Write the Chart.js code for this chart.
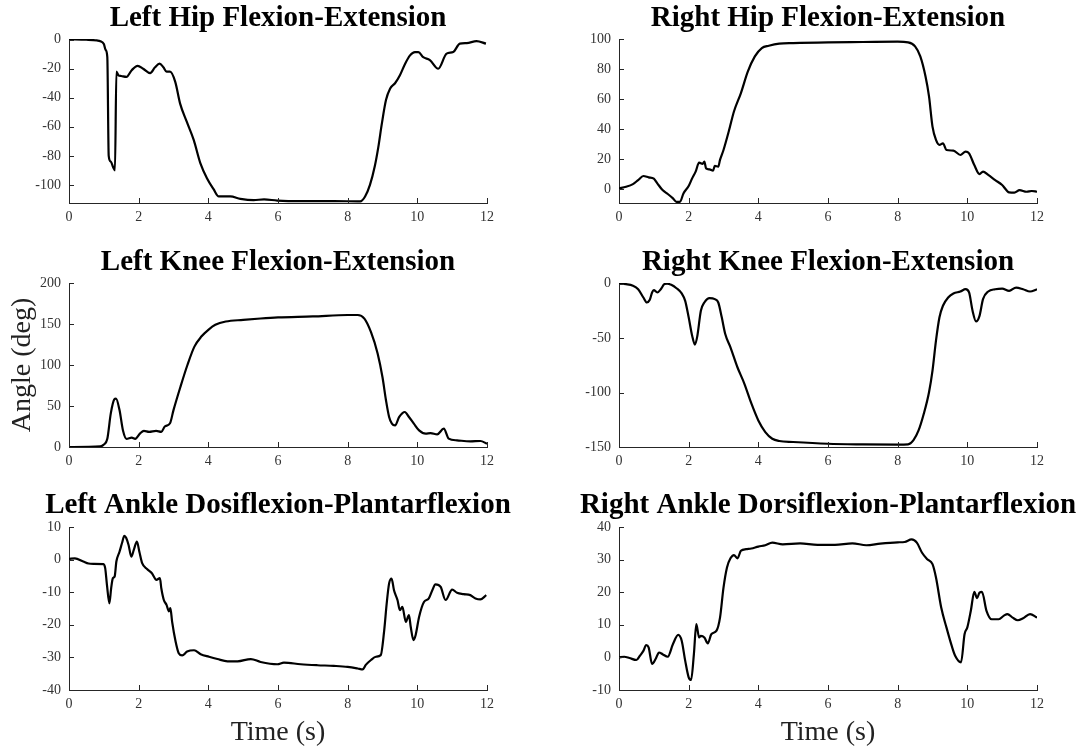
<!DOCTYPE html>
<html>
<head>
<meta charset="utf-8">
<script src="https://cdn.jsdelivr.net/npm/chart.js@4/dist/chart.umd.min.js"></script>
<style>
  body { margin: 0; background: #fff; width: 1082px; height: 749px; overflow: hidden; position: relative; }
  .cell { position: absolute; }
</style>
</head>
<body>
<div class="cell" style="left:0;top:0;width:556px;height:240px"><canvas id="lhip"></canvas></div>
<div class="cell" style="left:574px;top:0;width:508px;height:240px"><canvas id="rhip"></canvas></div>
<div class="cell" style="left:0;top:244px;width:556px;height:240px"><canvas id="lknee"></canvas></div>
<div class="cell" style="left:574px;top:244px;width:508px;height:240px"><canvas id="rknee"></canvas></div>
<div class="cell" style="left:0;top:488px;width:556px;height:261px"><canvas id="lankle"></canvas></div>
<div class="cell" style="left:574px;top:488px;width:508px;height:261px"><canvas id="rankle"></canvas></div>
<script>
// time axis ticks (s)
const timeTicks = [0, 2, 4, 6, 8, 10, 12];

// Left hip flexion-extension
const lhipT = [0, 0.5, 0.8, 0.9, 1.0, 1.05, 1.1, 1.14, 1.2, 1.27, 1.32, 1.36, 1.42, 1.5, 1.65, 1.8, 1.97, 2.13, 2.33, 2.47, 2.6, 2.71, 2.8, 2.9, 3.05, 3.19, 3.38, 3.58, 3.77, 3.96, 4.15, 4.3, 4.63, 4.92, 5.3, 5.6, 5.98, 6.65, 7.6, 8.36, 8.5, 8.64, 8.78, 8.88, 8.98, 9.1, 9.22, 9.36, 9.5, 9.65, 9.79, 9.93, 10.03, 10.17, 10.36, 10.6, 10.84, 11.03, 11.22, 11.42, 11.7, 11.97];
const lhipV = [0.3, 0, -0.5, -1, -3, -7, -12, -80, -84, -88, -90, -22, -24.5, -25, -25.6, -21, -18, -20, -23, -19, -16.5, -19, -22, -22, -29, -44, -56.5, -69, -85, -95.4, -103, -108, -108, -109.6, -110.5, -110, -110.8, -111.2, -111.2, -111.4, -108, -100, -87, -74, -58, -41.6, -33.6, -30, -24.5, -16.5, -10.8, -8.5, -8.5, -12, -14, -20, -9.6, -8.5, -2.7, -2.3, -1, -2.7];
const lhipTicks = [-100, -80, -60, -40, -20, 0];

// Right hip flexion-extension
const rhipT = [0, 0.2, 0.4, 0.55, 0.7, 0.85, 1.0, 1.1, 1.25, 1.4, 1.55, 1.65, 1.75, 1.85, 2.0, 2.1, 2.2, 2.3, 2.4, 2.45, 2.5, 2.6, 2.7, 2.75, 2.85, 2.9, 3.0, 3.15, 3.3, 3.5, 3.7, 3.9, 4.1, 4.3, 4.6, 5.0, 6.0, 7.0, 8.0, 8.3, 8.5, 8.65, 8.8, 8.9, 9.0, 9.1, 9.2, 9.3, 9.4, 9.6, 9.8, 9.95, 10.05, 10.2, 10.35, 10.45, 10.6, 10.8, 11.0, 11.2, 11.35, 11.5, 11.7, 11.85, 12];
const rhipV = [0.4, 1.5, 3.3, 6, 8.7, 7.8, 6.9, 3.8, -0.7, -3.3, -6.2, -8.5, -8.5, -2.9, 2, 7.1, 11.6, 17.6, 16.7, 18.3, 13.8, 13.1, 12.2, 15.4, 14.9, 19.4, 26, 38.3, 51.7, 64, 78.4, 88.4, 94, 95.5, 96.9, 97.3, 97.8, 98, 98.2, 97.8, 95.1, 88.4, 75, 61.7, 41.6, 32.7, 29.4, 30.5, 26, 25.6, 22.7, 25, 23.8, 16, 10, 11.6, 9.4, 6, 2.7, -2.2, -2.4, -0.7, -1.8, -1.3, -1.8];
const rhipTicks = [0, 20, 40, 60, 80, 100];

// Left knee flexion-extension
const lkneeT = [0, 0.9, 1.0, 1.1, 1.2, 1.3, 1.35, 1.45, 1.55, 1.65, 1.8, 1.9, 2.05, 2.15, 2.3, 2.5, 2.65, 2.75, 2.9, 3.0, 3.2, 3.4, 3.6, 3.8, 4.0, 4.2, 4.5, 5.0, 5.5, 6.0, 7.0, 8.0, 8.29, 8.48, 8.67, 8.86, 9.0, 9.1, 9.19, 9.27, 9.36, 9.48, 9.64, 9.76, 9.9, 10.05, 10.24, 10.38, 10.57, 10.76, 10.9, 11.14, 11.52, 11.81, 12];
const lkneeV = [0, 0.8, 3, 10, 41, 58, 59, 45, 20, 10, 11.4, 10, 17, 19.6, 18.4, 19.6, 18.4, 25, 29, 45, 73.5, 100, 122.4, 134.7, 142.9, 149, 153, 155, 156.7, 158, 159.2, 161, 161, 156.5, 140, 114, 85, 57, 36.6, 28.5, 26.4, 36.6, 42.7, 36.6, 28.5, 20.3, 16.3, 17, 15.4, 22.4, 10.2, 8.1, 6.9, 7.3, 4];
const lkneeTicks = [0, 50, 100, 150, 200];

// Right knee flexion-extension
const rkneeT = [0, 0.2, 0.4, 0.55, 0.7, 0.8, 0.88, 0.95, 1.0, 1.1, 1.2, 1.3, 1.38, 1.5, 1.65, 1.8, 1.9, 2.0, 2.1, 2.18, 2.25, 2.35, 2.45, 2.6, 2.75, 2.85, 2.95, 3.05, 3.2, 3.4, 3.6, 3.8, 4.0, 4.2, 4.4, 4.6, 5, 6, 7, 8, 8.3, 8.45, 8.6, 8.75, 8.9, 9.0, 9.1, 9.2, 9.3, 9.45, 9.6, 9.8, 9.95, 10.05, 10.15, 10.25, 10.35, 10.45, 10.6, 10.8, 11.0, 11.2, 11.4, 11.6, 11.8, 12];
const rkneeV = [0, -0.6, -2, -5.2, -12.8, -17.4, -15.2, -8.2, -6.1, -8.2, -5.2, -0.6, 0, -1.2, -4.3, -9.1, -15.9, -31, -47.9, -56.1, -47.9, -25, -17.4, -13.4, -14.3, -17.4, -31, -46.3, -58.5, -76.8, -92, -110, -125.6, -136.3, -142.4, -144.5, -145.4, -147, -147.6, -147.9, -147.6, -143.9, -134.8, -119.5, -99.7, -79.9, -52.4, -31, -20.4, -12.8, -9.1, -7.3, -5.2, -8.2, -25, -34.8, -29.6, -14.3, -7.3, -5.2, -4.6, -6.7, -3.7, -5.2, -7.3, -5.2];
const rkneeTicks = [-150, -100, -50, 0];

// Left ankle dorsiflexion-plantarflexion
const lankleT = [0, 0.17, 0.41, 0.56, 0.7, 0.99, 1.04, 1.09, 1.16, 1.21, 1.26, 1.31, 1.36, 1.45, 1.52, 1.59, 1.64, 1.71, 1.79, 1.86, 1.95, 2.02, 2.1, 2.24, 2.38, 2.51, 2.61, 2.65, 2.72, 2.8, 2.87, 2.91, 2.96, 3.06, 3.15, 3.25, 3.39, 3.59, 3.78, 4.02, 4.26, 4.55, 4.84, 5.22, 5.5, 5.98, 6.17, 6.65, 7.13, 7.6, 8.0, 8.29, 8.43, 8.52, 8.67, 8.81, 8.95, 9.05, 9.12, 9.19, 9.26, 9.33, 9.43, 9.5, 9.57, 9.67, 9.76, 9.81, 9.89, 9.95, 10.05, 10.19, 10.33, 10.43, 10.52, 10.67, 10.81, 11.0, 11.14, 11.33, 11.52, 11.67, 11.81, 11.98];
const lankleV = [0.2, 0.4, -0.6, -1.2, -1.3, -1.4, -2.7, -7.8, -13.4, -8.8, -5.7, -5.2, -0.6, 2.4, 5, 7.3, 6.7, 4.5, 0.9, 3, 5.5, 2.4, -1.1, -2.9, -4.2, -6.2, -5.7, -8.8, -12.3, -13.9, -15.9, -14.9, -19, -25.1, -28.7, -29.4, -28.2, -27.8, -29, -29.8, -30.5, -31.2, -31.2, -30.5, -31.4, -32.1, -31.6, -32.1, -32.4, -32.6, -32.9, -33.4, -33.7, -32.3, -30.8, -29.8, -29.3, -21.6, -13.5, -7.3, -5.8, -9.4, -12.4, -15.5, -14.5, -19.1, -17, -20.6, -24.7, -23.2, -17.6, -13, -11.9, -9.4, -7.6, -8.4, -12.4, -9.2, -10.2, -10.6, -10.9, -11.9, -12.2, -10.9];
const lankleTicks = [-40, -30, -20, -10, 0, 10];

// Right ankle dorsiflexion-plantarflexion
const rankleT = [0, 0.15, 0.3, 0.5, 0.6, 0.7, 0.78, 0.85, 0.95, 1.05, 1.15, 1.25, 1.4, 1.55, 1.7, 1.8, 1.9, 2.0, 2.07, 2.15, 2.22, 2.3, 2.35, 2.45, 2.55, 2.65, 2.8, 2.9, 3.0, 3.1, 3.2, 3.3, 3.4, 3.5, 3.65, 3.8, 4.0, 4.2, 4.4, 4.7, 5.2, 5.7, 6.2, 6.7, 7.1, 7.5, 8.0, 8.2, 8.4, 8.55, 8.7, 8.85, 9.0, 9.1, 9.25, 9.4, 9.55, 9.65, 9.82, 9.92, 10.0, 10.1, 10.2, 10.28, 10.35, 10.42, 10.55, 10.7, 10.9, 11.05, 11.15, 11.3, 11.45, 11.6, 11.8, 12];
const rankleV = [0, 0.2, -0.2, -0.8, 0.5, 2, 3.8, 3.1, -2, -0.5, 1.5, 1, 0.2, 4.1, 6.9, 5.1, -1, -6.1, -6.9, 1, 10.2, 6.1, 6.6, 6.1, 4.3, 7.1, 8.2, 12.2, 21.4, 27.6, 30.4, 31.4, 30.4, 32.7, 33.2, 33.4, 34, 34.4, 35.2, 34.7, 35, 34.5, 34.5, 35, 34.4, 34.9, 35.3, 35.4, 36.2, 35.2, 32.1, 30.1, 28.6, 24.5, 15.3, 9.2, 3.6, 0.5, -1.5, 7.1, 9.2, 14.3, 20.1, 18.2, 19.9, 20.1, 14.3, 11.7, 11.7, 12.8, 13.3, 12.2, 11.4, 12, 13.3, 12.2];
const rankleTicks = [-10, 0, 10, 20, 30, 40];

const serif = "'Liberation Serif', 'Times New Roman', serif";
const axisColor = '#262626';

// MATLAB style ticks pointing into the plot
const inwardTicks = {
  id: 'inwardTicks',
  afterDatasetsDraw(chart) {
    const { ctx, chartArea, scales: { x, y } } = chart;
    ctx.save();
    ctx.strokeStyle = axisColor;
    ctx.lineWidth = 1;
    ctx.beginPath();
    x.ticks.forEach(t => {
      const px = Math.round(x.getPixelForValue(t.value)) + 0.5;
      ctx.moveTo(px, chartArea.bottom);
      ctx.lineTo(px, chartArea.bottom - 5);
    });
    y.ticks.forEach(t => {
      const py = Math.round(y.getPixelForValue(t.value)) + 0.5;
      ctx.moveTo(chartArea.left, py);
      ctx.lineTo(chartArea.left + 5, py);
    });
    ctx.stroke();
    ctx.restore();
  }
};

// title centred over the plot box (the built-in title centres on the whole canvas)
function panelTitle(text, y) {
  return {
    id: 'panelTitle',
    afterDraw(chart) {
      const { ctx, chartArea } = chart;
      ctx.save();
      ctx.font = 'bold 29px ' + serif;
      ctx.fillStyle = '#000';
      ctx.textAlign = 'center';
      ctx.textBaseline = 'middle';
      ctx.fillText(text, (chartArea.left + chartArea.right) / 2, y);
      ctx.restore();
    }
  };
}

function makeChart(id, T, V, title, yMin, yMax, yTicks, cfg) {
  const points = T.map((t, i) => ({ x: t, y: V[i] }));
  new Chart(document.getElementById(id), {
    type: 'line',
    data: {
      datasets: [{
        data: points,
        borderColor: '#000',
        borderWidth: 2.2,
        pointRadius: 0,
        cubicInterpolationMode: 'monotone',
        fill: false
      }]
    },
    options: {
      responsive: true,
      maintainAspectRatio: false,
      animation: false,
      layout: { padding: { left: 0, right: cfg.padRight, top: 39, bottom: 0 } },
      plugins: {
        legend: { display: false },
        tooltip: { enabled: false },
        title: { display: false }
      },
      scales: {
        x: {
          type: 'linear',
          min: 0,
          max: 12,
          afterBuildTicks: s => { s.ticks = timeTicks.map(v => ({ value: v })); },
          afterFit: s => { s.height = cfg.xHeight; },
          grid: { display: true, drawOnChartArea: false, drawTicks: false },
          border: { display: true, color: axisColor, width: 1 },
          ticks: { color: '#333', padding: 6, maxRotation: 0, font: { family: serif, size: 14 } },
          title: {
            display: !!cfg.xTitle,
            text: cfg.xTitle || '',
            color: '#222',
            padding: { top: 0, bottom: 0 },
            font: { family: serif, size: 28, lineHeight: 1.2 }
          }
        },
        y: {
          min: yMin,
          max: yMax,
          afterBuildTicks: s => { s.ticks = yTicks.map(v => ({ value: v })); },
          afterFit: s => { s.width = cfg.yWidth; },
          grid: { display: true, drawOnChartArea: false, drawTicks: false },
          border: { display: true, color: axisColor, width: 1 },
          ticks: { color: '#333', padding: 8, font: { family: serif, size: 14 } },
          title: {
            display: !!cfg.yTitle,
            text: cfg.yTitle || '',
            color: '#222',
            padding: { top: 6, bottom: 0 },
            font: { family: serif, size: 28, lineHeight: 1.2 }
          }
        }
      }
    },
    plugins: [inwardTicks, panelTitle(title, cfg.titleY)]
  });
}

const leftCol = { yWidth: 69, padRight: 69, xHeight: 37, titleY: 19 };
const rightCol = { yWidth: 45, padRight: 45, xHeight: 37, titleY: 19 };

makeChart('lhip', lhipT, lhipV, 'Left Hip Flexion-Extension', -112.5, 0.5, lhipTicks, leftCol);
makeChart('rhip', rhipT, rhipV, 'Right Hip Flexion-Extension', -9.3, 100, rhipTicks, rightCol);
makeChart('lknee', lkneeT, lkneeV, 'Left Knee Flexion-Extension', 0, 200, lkneeTicks, Object.assign({}, leftCol, { yTitle: 'Angle (deg)' }));
makeChart('rknee', rkneeT, rkneeV, 'Right Knee Flexion-Extension', -150, 0.5, rkneeTicks, rightCol);
makeChart('lankle', lankleT, lankleV, 'Left Ankle Dosiflexion-Plantarflexion', -40, 10, lankleTicks, Object.assign({}, leftCol, { xHeight: 59, xTitle: 'Time (s)', titleY: 18 }));
makeChart('rankle', rankleT, rankleV, 'Right Ankle Dorsiflexion-Plantarflexion', -10, 40, rankleTicks, Object.assign({}, rightCol, { xHeight: 59, xTitle: 'Time (s)', titleY: 18 }));
</script>
</body>
</html>
